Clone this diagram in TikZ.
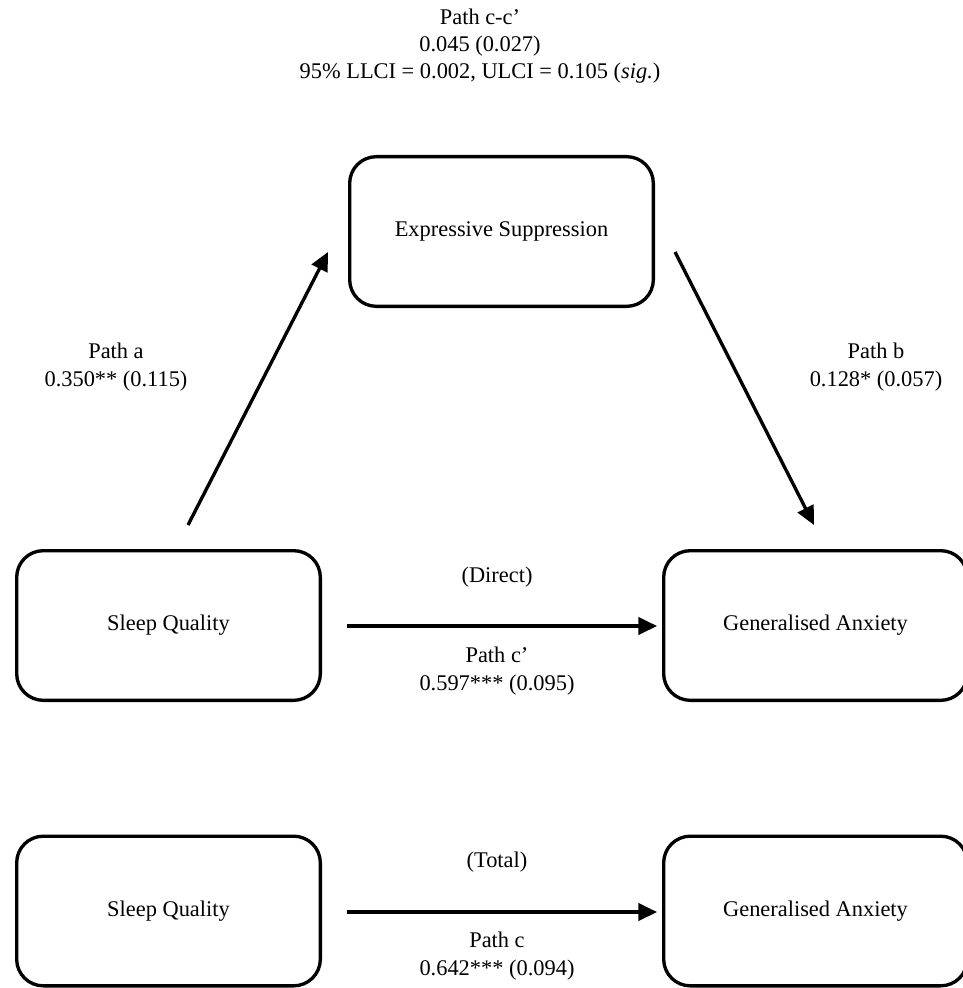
\documentclass[tikz,border=0pt]{standalone}
\usepackage{fontspec}
\setmainfont{Liberation Serif}
\usetikzlibrary{arrows.meta}
\begin{document}
\begin{tikzpicture}[x=0.75pt,y=-0.75pt,
  box/.style={draw=black,line width=2.5pt,rounded corners=20pt,minimum width=230.25pt-2.5pt,minimum height=114.75pt-2.5pt,inner sep=0pt,font=\fontsize{16.8}{20}\selectfont},
  lbl/.style={align=center,font=\fontsize{16.8}{20.5}\selectfont,inner sep=0pt},
  arr/.style={line width=2.5pt,-{Triangle[length=14pt,width=13pt]}}]
\useasboundingbox (0,0) rectangle (963,988);
\node[lbl] (top) at (480,46) {Path c-c’\\0.045 (0.027)\\95\% LLCI = 0.002, ULCI = 0.105 (\textit{sig.})};
\node[box] (es) at (501.5,231.5) {Expressive Suppression};
\node[box] (sq1) at (168.5,625.5) {Sleep Quality};
\node[box] (ga1) at (815.5,625.5) {Generalised Anxiety};
\node[box] (sq2) at (168.5,911) {Sleep Quality};
\node[box] (ga2) at (815.5,911) {Generalised Anxiety};
\coordinate (a1) at (188,525);
\coordinate (a2) at (328,252);
\coordinate (b1) at (675,252);
\coordinate (b2) at (814,525);
\coordinate (d1) at (347,626);
\coordinate (d2) at (657,626);
\coordinate (t1) at (347,912);
\coordinate (t2) at (657,912);
\draw[arr] (a1) -- (a2);
\draw[arr] (b1) -- (b2);
\draw[arr] (d1) -- (d2);
\draw[arr] (t1) -- (t2);
\node[lbl] (la) at (116,367) {Path a\\0.350** (0.115)};
\node[lbl] (lb) at (876,367) {Path b\\0.128* (0.057)};
\node[lbl] (ld) at (497,577) {(Direct)};
\node[lbl] (lc1) at (497,671) {Path c’\\0.597*** (0.095)};
\node[lbl] (lt) at (497,862) {(Total)};
\node[lbl] (lc2) at (497,956) {Path c\\0.642*** (0.094)};
\end{tikzpicture}
\end{document}
